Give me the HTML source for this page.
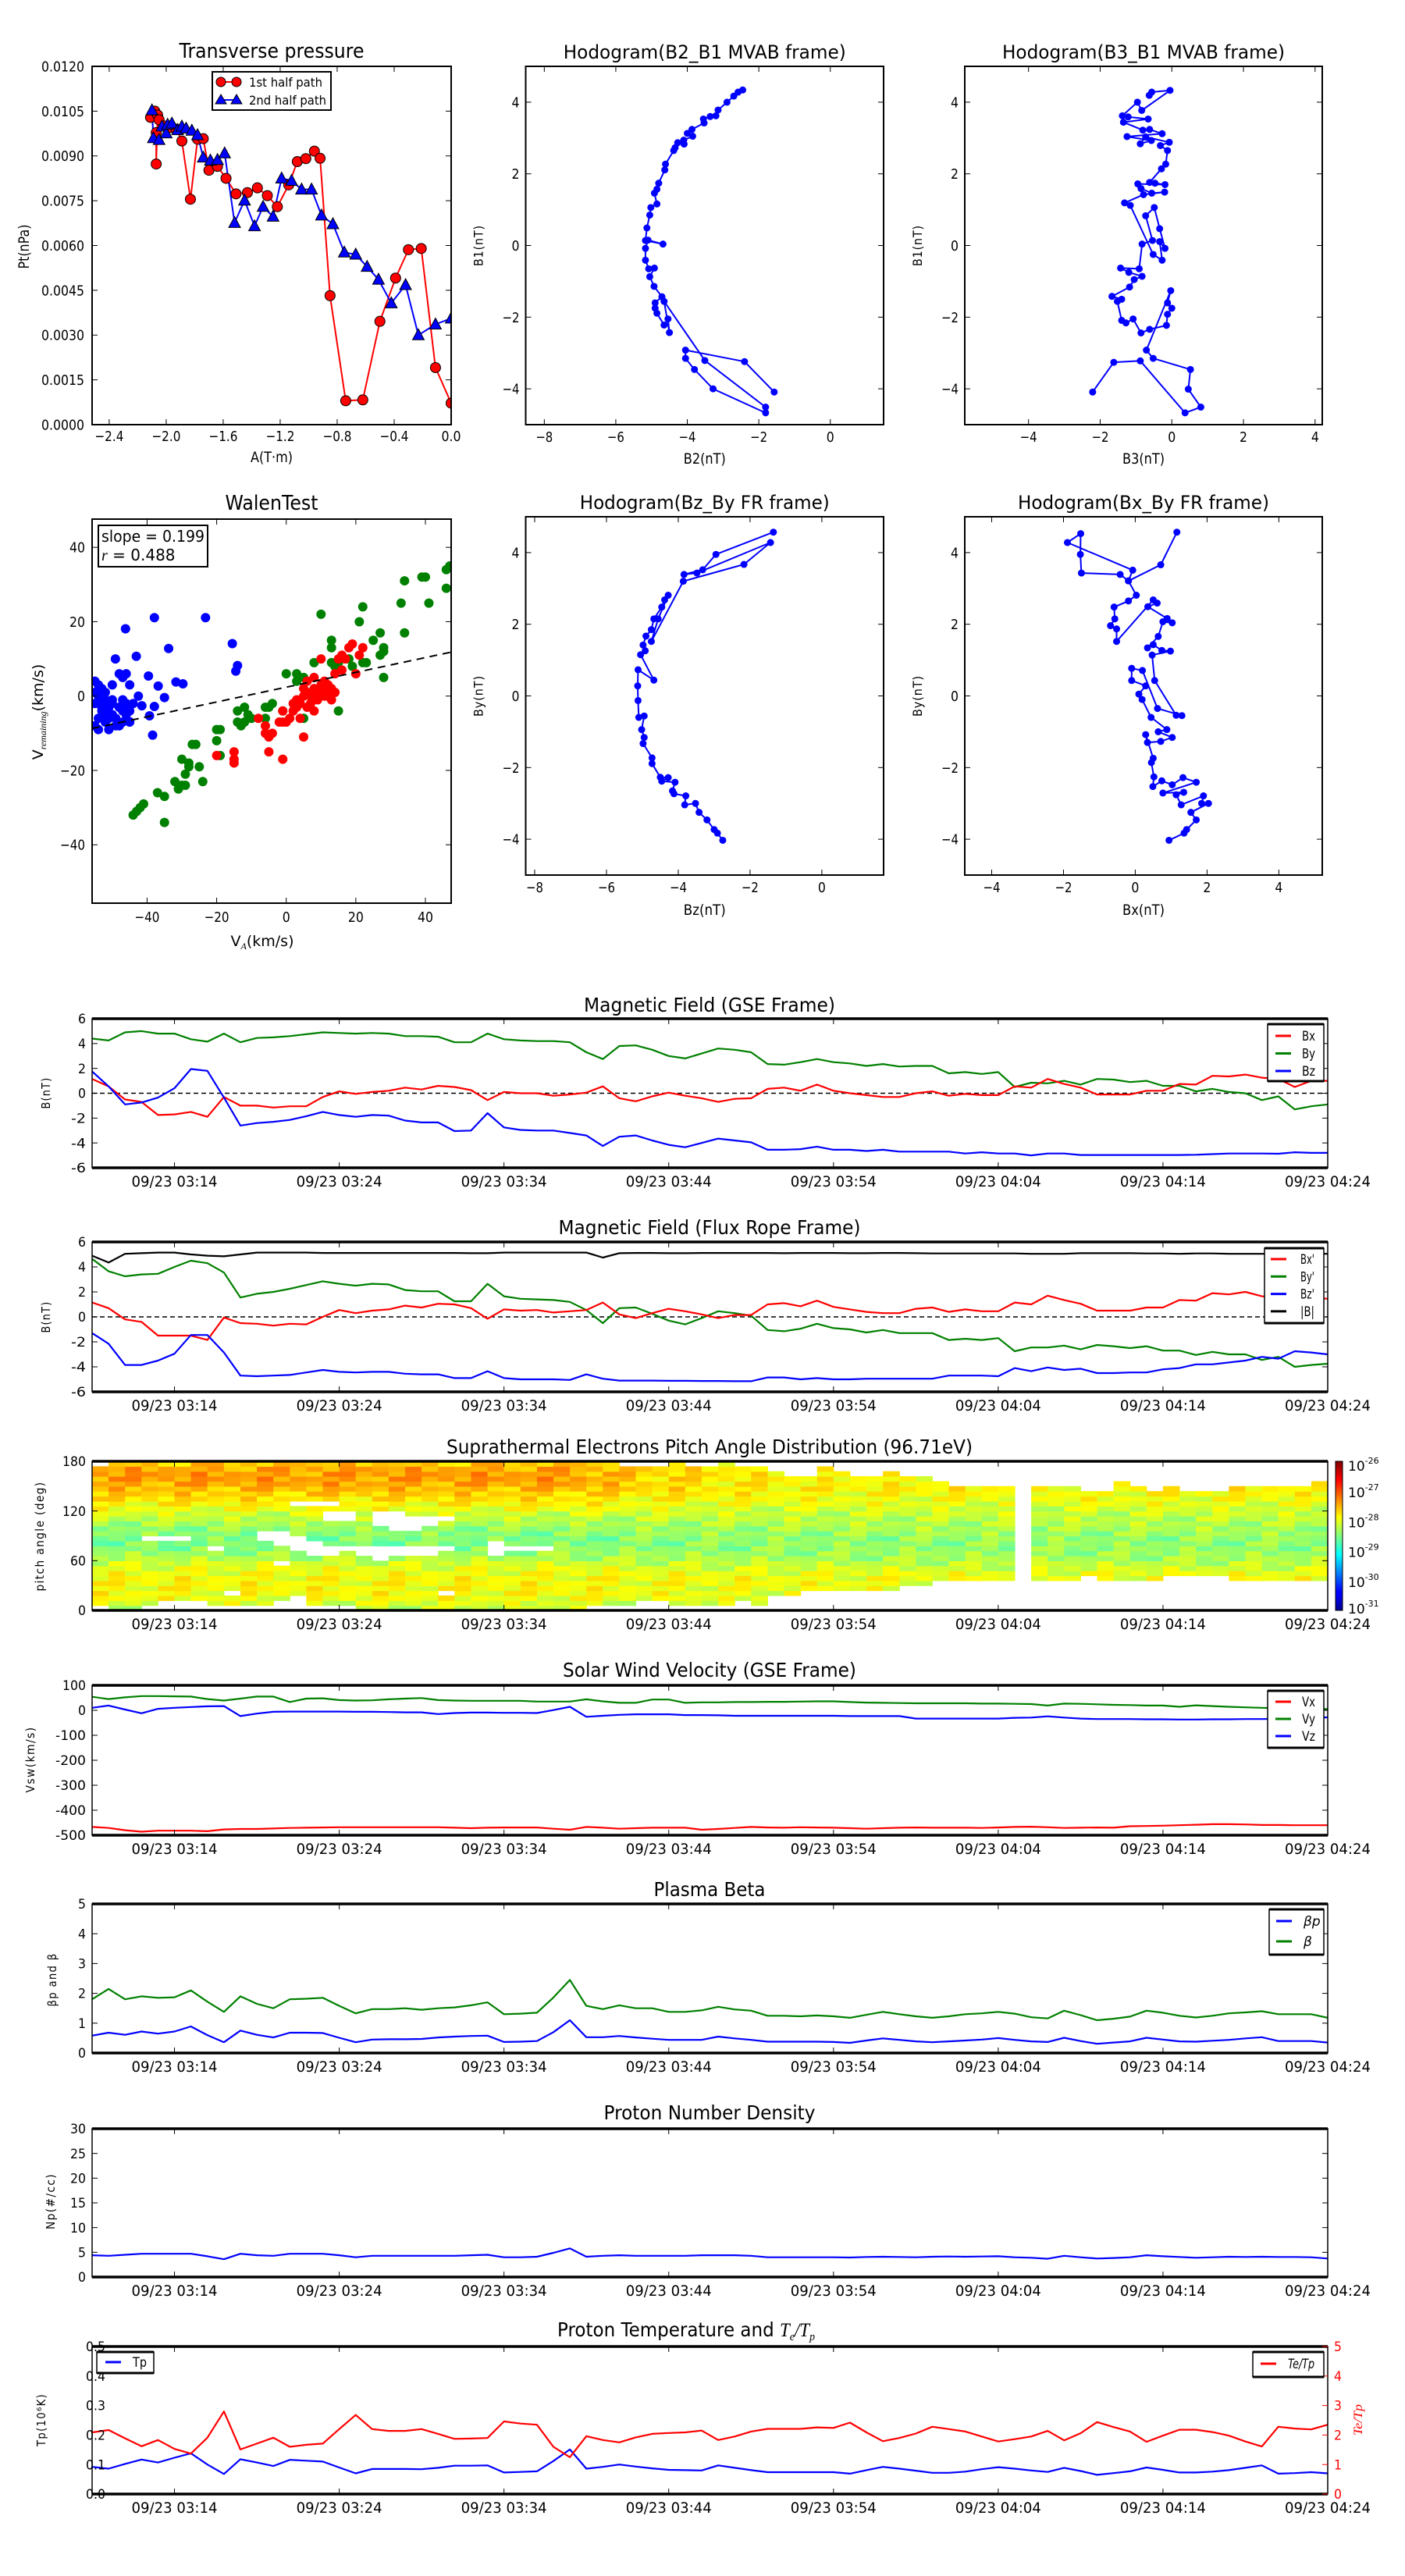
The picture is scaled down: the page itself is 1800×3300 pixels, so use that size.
<!DOCTYPE html>
<html><head><meta charset="utf-8"><title>Flux rope analysis</title>
<style>html,body{margin:0;padding:0;background:#fff}svg{display:block}</style></head>
<body>
<svg id="fig" width="1800" height="3300" xmlns="http://www.w3.org/2000/svg" font-family="'DejaVu Sans','Liberation Sans',sans-serif">
<defs>
<linearGradient id="jetgrad" x1="0" y1="1" x2="0" y2="0">
<stop offset="0" stop-color="#00008f"/><stop offset="0.11" stop-color="#0000ff"/><stop offset="0.125" stop-color="#0000ff"/><stop offset="0.375" stop-color="#00ffff"/><stop offset="0.5" stop-color="#80ff80"/><stop offset="0.625" stop-color="#ffff00"/><stop offset="0.875" stop-color="#ff0000"/><stop offset="1" stop-color="#800000"/>
</linearGradient>
</defs>
</svg>
<script>
// ---------- data ----------
const timeTickMinutes = [5,15,25,35,45,55,65,75];
const timeTickLabels = ['09/23 03:14','09/23 03:24','09/23 03:34','09/23 03:44','09/23 03:54','09/23 04:04','09/23 04:14','09/23 04:24'];

const tpA1 = [-2.11,-2.08,-2.06,-2.07,-2.07,-2.05,-2.01,-1.97,-1.93,-1.89,-1.83,-1.78,-1.74,-1.70,-1.64,-1.58,-1.51,-1.43,-1.36,-1.29,-1.22,-1.14,-1.08,-1.02,-0.96,-0.92,-0.85,-0.74,-0.62,-0.50,-0.39,-0.30,-0.21,-0.11,0.0];
const tpP1 = [0.01029,0.0105,0.01037,0.00873,0.00978,0.01021,0.01,0.00995,0.0099,0.0095,0.00755,0.00956,0.00958,0.00852,0.00865,0.00825,0.00773,0.00777,0.00793,0.00767,0.0073,0.00803,0.00881,0.00891,0.00916,0.00892,0.00432,0.0008,0.00083,0.00346,0.00491,0.00586,0.0059,0.00191,0.00072];
const tpA2 = [-2.1,-2.09,-2.05,-2.03,-2.0,-1.99,-1.96,-1.92,-1.89,-1.86,-1.82,-1.78,-1.74,-1.69,-1.64,-1.59,-1.52,-1.45,-1.38,-1.32,-1.25,-1.19,-1.12,-1.05,-0.98,-0.91,-0.83,-0.75,-0.67,-0.59,-0.51,-0.42,-0.32,-0.23,-0.11,0];
const tpP2 = [0.01053,0.0096,0.00954,0.00999,0.00976,0.01005,0.01009,0.00987,0.00999,0.00992,0.00985,0.0097,0.00895,0.00885,0.00887,0.00909,0.00676,0.00751,0.00665,0.0073,0.00697,0.00825,0.00817,0.00788,0.00788,0.00701,0.00672,0.00577,0.0057,0.00529,0.00486,0.00407,0.00468,0.003,0.00336,0.00356];

const h1X = [-2.45,-2.58,-2.7,-2.89,-3.14,-3.2,-3.36,-3.55,-3.53,-3.87,-4.0,-3.85,-4.1,-4.09,-4.27,-4.34,-4.38,-4.61,-4.63,-4.8,-4.85,-4.92,-4.85,-5.02,-5.05,-5.13,-5.17,-4.68,-5.1,-5.17,-5.17,-5.08,-4.92,-5.05,-4.93,-4.71,-4.9,-4.9,-4.85,-4.65,-4.54,-4.5,-4.65,-3.51,-1.81,-1.81,-3.28,-3.8,-4.05,-4.05,-2.4,-1.57];
const h1Y = [4.34,4.28,4.17,4.0,3.78,3.62,3.6,3.53,3.42,3.24,3.13,3.05,2.94,2.83,2.87,2.73,2.65,2.27,2.11,1.74,1.57,1.46,1.16,1.06,0.85,0.49,0.14,0.04,0.15,-0.08,-0.41,-0.65,-0.63,-0.87,-1.14,-1.43,-1.6,-1.75,-1.89,-2.22,-2.05,-2.43,-1.56,-3.21,-4.51,-4.67,-4.0,-3.46,-3.15,-2.92,-3.24,-4.09];

const h2X = [-0.63,-0.56,-0.05,-0.84,-0.96,-1.38,-1.22,-0.66,-1.35,-0.81,-0.62,-0.27,-1.25,-0.57,-0.88,-0.73,-0.07,-0.32,-0.12,-0.17,-0.29,-0.62,-0.47,-0.19,-0.95,-0.86,-0.56,-0.2,-0.79,-1.32,-1.16,-0.52,-0.27,-0.34,-0.19,-0.34,-0.49,-0.73,-0.54,-0.83,-0.91,-1.43,-1.2,-0.83,-1.05,-1.18,-1.67,-1.4,-1.52,-1.4,-1.28,-1.08,-0.86,-0.62,-0.15,-0.12,0,-0.12,-0.03,-0.71,-0.52,0.52,0.46,0.81,0.37,-0.88,-1.62,-2.21];
const h2Y = [4.19,4.28,4.33,3.77,4.0,3.62,3.59,3.53,3.44,3.22,3.24,3.12,3.04,2.93,2.84,3.03,2.88,2.79,2.65,2.27,2.14,1.76,1.74,1.7,1.72,1.59,1.46,1.49,1.42,1.19,1.12,-0.25,-0.41,0.11,-0.08,0.47,1.06,0.83,0.14,0.04,-0.65,-0.63,-0.75,-0.86,-0.95,-1.16,-1.42,-1.5,-1.56,-2.09,-2.16,-2.05,-2.44,-2.34,-2.23,-1.92,-1.75,-1.6,-1.26,-2.92,-3.15,-3.46,-4.01,-4.51,-4.67,-3.22,-3.26,-4.09];

const h3X = [-1.35,-2.95,-3.32,-3.84,-3.48,-1.43,-2.17,-3.86,-4.75,-4.56,-4.28,-4.38,-4.46,-4.68,-4.75,-4.9,-4.98,-4.92,-5.05,-4.68,-5.12,-5.13,-5.12,-5.1,-4.95,-5.02,-4.95,-4.98,-4.73,-4.73,-4.5,-4.28,-4.46,-4.09,-4.16,-4.12,-3.79,-3.82,-3.52,-3.42,-3.2,-3.0,-2.91,-2.76];
const h3Y = [4.57,3.95,3.52,3.39,3.43,4.28,3.67,3.2,1.52,2.15,2.81,2.68,2.48,2.15,1.85,1.67,1.42,1.26,1.15,0.44,0.73,0.28,-0.13,-0.6,-0.56,-0.94,-1.16,-1.33,-1.73,-1.89,-2.27,-2.28,-2.38,-2.41,-2.65,-2.73,-2.79,-3.04,-3.0,-3.25,-3.46,-3.73,-3.83,-4.03];

const h4X = [1.16,0.71,-0.19,-0.07,-1.89,-1.52,-1.53,-1.5,-0.42,-0.19,0.03,-0.19,-0.59,-0.57,-0.69,-0.52,-0.52,0.5,0.61,0.35,0.89,1.03,0.77,0.64,0.34,0.5,0.74,0.98,0.47,0.54,1.14,1.3,0.62,0.2,-0.1,-0.1,0.29,0.1,0.19,0.44,0.88,0.64,1.03,0.71,0.34,0.29,0.5,0.45,0.52,0.49,0.74,1.03,1.33,1.7,0.77,1.35,1.14,1.28,1.9,1.85,2.04,1.55,1.7,1.43,1.36,0.94];
const h4Y = [4.57,3.66,3.21,3.51,4.28,4.53,3.95,3.43,3.39,3.21,2.81,2.65,2.48,2.15,1.96,1.87,1.52,2.68,2.59,2.49,2.16,2.04,2.07,1.66,1.34,1.43,1.27,1.25,1.14,0.43,-0.54,-0.55,-0.35,0.71,0.77,0.43,0.28,0.05,-0.1,-0.6,-0.94,-1.0,-1.16,-1.27,-1.3,-1.08,-1.74,-1.86,-2.26,-2.53,-2.37,-2.48,-2.28,-2.41,-2.71,-2.69,-2.76,-3.04,-2.79,-3.0,-3.0,-3.25,-3.46,-3.73,-3.83,-4.03];

const walenBlueX = [-55,-54,-54,-53,-52,-51,-50,-49,-52,-55,-54,-51,-50,-50,-49.1,-48,-47,-47,-46,-45,-46,-45,-45,-48,-46.2,-43.1,-42.5,-41.5,-39.6,-37.9,-39.3,-38.4,-37.9,-36.8,-35,-33.8,-31.7,-29.7,-23.2,-15.5,-14,-14.5,-53,-52,-54,-53,-48,-50,-47,-55,-55,-53,-44,-45,-49,-51,-52,-46,-47];
const walenBlueY = [-2,3,0,-4,1,-6,-2,-8,-7,-8,-9,-9,3,-1,10,6,5,-4,6,3,-2,-4,-7,-8,18.1,10.7,0,-2.6,5.4,-2.8,-5.3,-10.5,21.1,2.7,-0.4,12.8,3.8,3.3,21.1,14.1,8.2,6.7,-3,-5,-6,2,-3,-5,-1,4,1,-1,-2,-6.9,-6,-3,-1,-5,-7];
const walenRedX = [-20,-15,-15,-15,-8,-6,-6,-5,-4,-5,-1,-1,0,-2,-1,1,2,3,4,5,3,5,5,6,6,7,7,8,8,8,9,10,10,11,11,12,12,13,10,14,14,15,16,16,18,19,20,21,22,17,2,4,6,9,11,13];
const walenRedY = [-16,-15,-17,-18,-6,-8,-10,-11,-10,-15,-17,-7,-7,-7,-4,-6,-2,-1,-6,-11,-3,0,2,1,4,-2,0,2,-4,5,1,2,3,1,4,3,0,2,10,1,6,10,7,11,13,14,6,11,13,10,-4,-2,-3,-1,0,-1];
const walenGreenX = [-44,-43,-42,-41,-37,-35,-35,-32,-31,-30,-30,-29,-29,-28,-28,-27,-26,-25,-24,-20,-20,-19,-19,-14,-14,-13,-12,-12,-11,-10,-6,-6,-5,-4,-1,0,3,3,5,5,7,8,10,13,13,13,14,15,15,18,19,21,22,22,23,25,27,27,28,28,28,33,34,34,39,40,41,46,46,47];
const walenGreenY = [-32,-31,-30,-29,-26,-27,-34,-23,-25,-24,-17,-21,-24,-18,-19,-13,-13,-19,-23,-9,-12,-16,-9,-7,-4,-8,-3,-7,-5,-6,-3,-6,-3,-2,-4,6,6,4,5,-6,0,9,22,15,13,9,8,-4,9,10,8,20,24,9,9,15,11,17,13,12,5,25,17,31,32,32,25,34,29,35];
const walenSlope = 0.199, walenIntercept = 2.4;

const gseBx = [1.15,0.55,-0.5,-0.7,-1.75,-1.7,-1.5,-1.9,-0.3,-1.0,-1.0,-1.15,-1.05,-1.05,-0.3,0.15,-0.05,0.1,0.2,0.45,0.3,0.6,0.5,0.25,-0.55,0.1,0,0,-0.2,-0.1,0.05,0.55,-0.4,-0.65,-0.25,0.05,-0.2,-0.4,-0.7,-0.45,-0.4,0.35,0.45,0.2,0.7,0.2,0,-0.15,-0.3,-0.3,0,0.15,-0.2,-0.05,-0.15,-0.15,0.55,0.45,1.15,0.75,0.45,-0.1,-0.1,-0.1,0.2,0.2,0.75,0.7,1.4,1.35,1.5,1.25,1.15,0.5,1.0,1.0];
const gseBy = [4.4,4.25,4.9,5.0,4.8,4.8,4.35,4.15,4.8,4.1,4.45,4.5,4.6,4.75,4.9,4.85,4.8,4.85,4.8,4.6,4.6,4.55,4.1,4.1,4.8,4.35,4.25,4.2,4.2,4.1,3.3,2.75,3.8,3.85,3.5,3.0,2.8,3.2,3.6,3.5,3.3,2.35,2.3,2.5,2.75,2.5,2.4,2.2,2.35,2.15,2.2,2.2,1.6,1.7,1.55,1.7,0.5,0.85,0.8,1.0,0.7,1.15,1.1,0.9,1.0,0.6,0.6,0.15,0.35,0.1,0.0,-0.55,-0.25,-1.3,-1.05,-0.9];
const gseBz = [1.75,0.55,-0.9,-0.75,-0.35,0.4,1.95,1.8,-0.35,-2.6,-2.4,-2.3,-2.15,-1.85,-1.5,-1.75,-1.9,-1.75,-1.8,-2.2,-2.35,-2.35,-3.05,-3.0,-1.6,-2.75,-2.95,-3.0,-3.0,-3.2,-3.4,-4.25,-3.5,-3.4,-3.8,-4.15,-4.35,-4.0,-3.65,-3.8,-3.95,-4.55,-4.55,-4.5,-4.3,-4.55,-4.55,-4.65,-4.55,-4.7,-4.7,-4.7,-4.7,-4.85,-4.75,-4.85,-4.85,-5.0,-4.85,-4.85,-4.97,-4.97,-4.97,-4.97,-4.97,-4.97,-4.97,-4.95,-4.9,-4.85,-4.85,-4.85,-4.87,-4.75,-4.8,-4.8];

const frBx = [1.15,0.7,-0.2,-0.4,-1.5,-1.5,-1.5,-1.85,-0.05,-0.5,-0.55,-0.7,-0.55,-0.6,0,0.55,0.3,0.5,0.6,0.9,0.75,1.05,1.0,0.7,-0.15,0.6,0.5,0.55,0.35,0.45,0.55,1.15,0.2,-0.1,0.3,0.65,0.45,0.2,-0.1,0.15,0.15,1.0,1.1,0.85,1.3,0.8,0.6,0.4,0.3,0.3,0.65,0.75,0.4,0.6,0.45,0.45,1.15,1.0,1.7,1.35,1.05,0.5,0.5,0.5,0.75,0.75,1.35,1.3,1.9,1.8,2.0,1.65,1.6,1.6,1.55,1.45];
const frBy = [4.65,3.65,3.25,3.4,3.45,4.0,4.5,4.3,3.55,1.55,1.85,2.0,2.25,2.55,2.85,2.65,2.5,2.65,2.6,2.15,2.05,2.05,1.25,1.25,2.65,1.65,1.45,1.4,1.35,1.2,0.55,-0.5,0.7,0.75,0.25,-0.3,-0.6,-0.1,0.45,0.3,0.1,-1.05,-1.15,-0.95,-0.55,-0.9,-1.0,-1.25,-1.05,-1.3,-1.3,-1.3,-1.85,-1.75,-1.85,-1.7,-2.75,-2.45,-2.45,-2.3,-2.6,-2.25,-2.35,-2.5,-2.35,-2.7,-2.7,-3.05,-2.8,-3.0,-3.0,-3.45,-3.2,-4.0,-3.85,-3.75];
const frBz = [-1.3,-2.15,-3.85,-3.85,-3.5,-2.95,-1.45,-1.45,-2.85,-4.7,-4.75,-4.7,-4.65,-4.45,-4.25,-4.4,-4.45,-4.4,-4.4,-4.55,-4.6,-4.6,-4.9,-4.9,-4.35,-4.9,-5.0,-5.0,-5.0,-5.05,-4.6,-4.95,-5.1,-5.1,-5.1,-5.12,-5.12,-5.13,-5.13,-5.15,-5.15,-4.85,-4.85,-5.0,-4.9,-5.0,-5.0,-4.95,-4.95,-4.95,-4.95,-4.95,-4.7,-4.7,-4.7,-4.75,-4.1,-4.35,-4.05,-4.25,-4.15,-4.5,-4.5,-4.45,-4.45,-4.2,-4.1,-3.8,-3.8,-3.65,-3.5,-3.2,-3.35,-2.75,-2.85,-3.0];
const frBt = [4.9,4.35,5.05,5.1,5.15,5.15,5.0,4.9,4.85,5.0,5.15,5.15,5.15,5.15,5.12,5.12,5.12,5.12,5.12,5.12,5.12,5.12,5.12,5.1,5.1,5.15,5.15,5.15,5.15,5.15,5.15,4.75,5.1,5.12,5.12,5.1,5.1,5.12,5.12,5.12,5.12,5.12,5.1,5.12,5.12,5.12,5.1,5.1,5.12,5.12,5.1,5.08,5.08,5.08,5.08,5.08,5.08,5.05,5.05,5.05,5.1,5.1,5.1,5.1,5.08,5.08,5.05,5.08,5.08,5.05,5.05,5.05,5.05,5.05,5.05,5.05];

const padProfA = [-28.15,-28.05,-27.95,-27.9,-27.9,-27.9,-27.9,-27.95,-28.0,-28.1,-28.25,-28.35,-28.45,-28.5,-28.5,-28.45,-28.4,-28.3,-28.2,-28.1,-27.95,-27.85,-27.75,-27.65,-27.55,-27.45,-27.4,-27.4,-27.45,-27.6];
const padProfB = [-28.1,-28.1,-28.05,-28.0,-28.0,-27.95,-27.95,-28.0,-28.1,-28.2,-28.3,-28.35,-28.4,-28.4,-28.4,-28.35,-28.3,-28.25,-28.2,-28.15,-28.1,-28.0,-27.95,-27.9,-27.85,-27.9,-27.9,-27.9,-27.9,-27.9];
const padJitter = [0.1,-0.15,0.05,0.2,-0.05,-0.2,0.15,0,-0.1,0.25,-0.25,0.1,-0.05,0.05,-0.15,0.2,0];
const padMix = [0,0,0,0,0,0,0,0,0,0,0,0,0,0,0,0,0,0,0,0,0,0,0,0,0,0,0,0,0,0,0.2,0.3,0.4,0.5,0.6,0.6,0.7,0.7,0.8,0.8,0.85,0.9,0.9,0.95,1,1,1,1,1,1,1,1,1,1,1,1,1,1,1,1,1,1,1,1,1,1,1,1,1,1,1,1,1,1,1,1];
const padLo = [1,0,0,1,2,2,2,1,1,1,1,2,2,1,1,1,0,0,0,0,0,0,0,0,0,0,0,0,0,0,1,1,1,2,2,1,1,1,1,2,1,3,3,4,4,4,4,4,4,5,5,6,6,6,6,6,30,6,6,6,7,6,6,6,6,7,7,7,7,6,6,6,6,6,6,6];
const padHi = [28,29,29,29,29,29,29,29,29,29,29,29,29,29,29,29,29,29,29,29,29,29,29,29,29,29,29,29,29,29,29,29,28,28,28,29,28,28,29,28,28,27,26,26,28,27,26,26,27,26,26,25,24,24,24,24,-1,24,24,24,23,23,25,24,23,24,23,23,23,24,24,24,24,24,25,24];
const padHoles = [[14,18],[14,19],[15,18],[15,19],[17,17],[17,18],[17,19],[18,16],[18,17],[18,18],[18,19],[19,16],[19,17],[19,18],[20,17],[20,18],[21,18],[12,21],[13,21],[14,21],[10,14],[10,15],[11,13],[11,14],[11,15],[12,12],[12,13],[12,14],[13,11],[13,12],[13,13],[14,11],[14,12],[15,12],[16,11],[16,12],[17,10],[17,11],[17,12],[18,11],[18,12],[19,11],[19,12],[20,11],[20,12],[21,12],[3,14],[4,14],[5,14],[7,12],[11,9],[8,3],[12,2],[21,3],[24,11],[24,12],[24,13],[25,12],[26,12],[27,12]];

const swVx = [-467,-471,-480,-486,-482,-482,-482,-484,-477,-475,-475,-473,-471,-470,-469,-468,-468,-468,-468,-468,-468,-468,-470,-472,-470,-469,-469,-469,-474,-478,-467,-470,-474,-472,-470,-470,-470,-478,-475,-471,-467,-469,-470,-468,-469,-470,-472,-474,-472,-470,-469,-470,-470,-470,-471,-469,-467,-466,-468,-471,-470,-469,-470,-464,-463,-462,-460,-458,-456,-456,-457,-459,-459,-460,-460,-460];
const swVy = [54,45,52,57,57,56,55,45,39,47,55,55,33,47,48,41,39,40,44,47,49,41,39,38,38,38,38,35,35,35,44,36,30,30,43,43,30,32,32,33,33,34,34,35,36,36,33,31,30,29,28,28,28,28,27,27,26,25,19,27,26,24,22,21,19,19,14,20,17,14,12,10,8,7,6,5];
const swVz = [10,19,3,-12,6,10,13,16,17,-23,-13,-6,-5,-5,-5,-5,-6,-6,-7,-8,-8,-15,-11,-9,-9,-10,-10,-11,1,14,-26,-22,-18,-16,-16,-16,-19,-19,-20,-22,-22,-22,-22,-22,-22,-22,-23,-23,-23,-23,-33,-33,-33,-33,-33,-33,-30,-29,-24,-29,-33,-35,-35,-35,-36,-36,-37,-37,-36,-36,-35,-35,-34,-32,-30,-28];

const betaP = [0.58,0.68,0.61,0.72,0.65,0.72,0.89,0.6,0.36,0.75,0.61,0.52,0.68,0.68,0.67,0.51,0.36,0.45,0.46,0.46,0.47,0.52,0.55,0.57,0.58,0.37,0.38,0.4,0.7,1.1,0.53,0.53,0.57,0.52,0.48,0.44,0.44,0.44,0.55,0.49,0.44,0.38,0.38,0.38,0.38,0.37,0.34,0.42,0.49,0.44,0.39,0.36,0.39,0.42,0.45,0.5,0.44,0.39,0.37,0.51,0.4,0.31,0.35,0.39,0.51,0.45,0.39,0.38,0.41,0.44,0.49,0.53,0.4,0.4,0.4,0.35];
const betaT = [1.8,2.15,1.8,1.9,1.85,1.87,2.1,1.72,1.38,1.9,1.65,1.5,1.8,1.82,1.85,1.58,1.33,1.47,1.47,1.5,1.45,1.5,1.53,1.6,1.7,1.3,1.32,1.35,1.86,2.45,1.58,1.47,1.6,1.5,1.5,1.38,1.38,1.43,1.55,1.46,1.42,1.25,1.25,1.23,1.26,1.23,1.18,1.28,1.38,1.3,1.23,1.18,1.23,1.3,1.33,1.38,1.32,1.2,1.16,1.42,1.27,1.1,1.15,1.22,1.42,1.35,1.25,1.19,1.25,1.33,1.36,1.4,1.3,1.3,1.3,1.18];
const densNp = [4.4,4.3,4.5,4.7,4.7,4.7,4.7,4.2,3.6,4.7,4.4,4.3,4.7,4.7,4.7,4.4,4.0,4.3,4.3,4.3,4.3,4.3,4.3,4.4,4.5,4.0,4.0,4.1,4.9,5.8,4.1,4.3,4.4,4.3,4.3,4.3,4.3,4.4,4.4,4.4,4.3,4.0,4.0,4.0,4.0,4.0,3.95,4.05,4.1,4.05,4.0,4.1,4.15,4.1,4.15,4.2,4.0,3.9,3.7,4.3,4.0,3.75,3.85,4.0,4.4,4.2,4.05,3.9,4.0,4.1,4.05,4.1,4.05,4.05,4.0,3.75];
const tempTp = [0.092,0.086,0.102,0.117,0.107,0.123,0.138,0.1,0.068,0.118,0.107,0.095,0.116,0.113,0.11,0.09,0.07,0.085,0.085,0.085,0.084,0.089,0.096,0.096,0.097,0.073,0.075,0.077,0.112,0.151,0.086,0.092,0.1,0.093,0.087,0.082,0.081,0.08,0.097,0.089,0.081,0.074,0.074,0.074,0.074,0.074,0.069,0.081,0.092,0.086,0.079,0.072,0.072,0.076,0.084,0.091,0.086,0.08,0.075,0.089,0.078,0.065,0.071,0.077,0.09,0.082,0.073,0.073,0.076,0.081,0.089,0.097,0.069,0.071,0.074,0.07];
const tempRatio = [2.09,2.17,1.89,1.62,1.83,1.53,1.37,1.91,2.8,1.51,1.71,1.91,1.6,1.67,1.71,2.2,2.68,2.2,2.14,2.14,2.2,2.04,1.87,1.88,1.9,2.46,2.39,2.35,1.6,1.25,1.96,1.83,1.75,1.92,2.04,2.07,2.09,2.15,1.83,1.95,2.12,2.21,2.21,2.21,2.26,2.24,2.42,2.09,1.79,1.9,2.05,2.28,2.2,2.12,1.95,1.78,1.86,1.95,2.14,1.82,2.06,2.44,2.27,2.12,1.77,1.98,2.18,2.18,2.1,1.98,1.78,1.61,2.28,2.22,2.19,2.35];

// ---------- helpers ----------
const NS = 'http://www.w3.org/2000/svg';
const fig = document.getElementById('fig');
let clipN = 0;
function mk(tag, attrs, parent) {
  const e = document.createElementNS(NS, tag);
  for (const k in attrs) e.setAttribute(k, attrs[k]);
  (parent || fig).appendChild(e);
  return e;
}
function tw(s) { let w = 0; for (const c of s) { w += (c === '.') ? 5 : (c === '−') ? 12 : (c === '-') ? 9 : 10; } return w; }
function label(str, x, y, size, anchor, len, parent, nm, extra) {
  const a = Object.assign({x: x, y: y, 'font-size': size, 'text-anchor': anchor || 'middle', fill: '#000'}, extra || {});
  if (len) { a.textLength = len; a.lengthAdjust = 'spacingAndGlyphs'; }
  const e = mk('text', a, parent);
  e.textContent = str;
  
  
  return e;
}
function group(nm, parent) {
  const g = mk('g', {}, parent);
  
  
  return g;
}
function makeAxes(nm, x0, x1, y0, y1, xmin, xmax, ymin, ymax) {
  const g = group(nm);
  const id = 'clip' + (clipN++);
  const cp = mk('clipPath', {id: id}, g);
  mk('rect', {x: x0, y: y0, width: x1 - x0, height: y1 - y0}, cp);
  const plot = mk('g', {'clip-path': 'url(#' + id + ')'}, g);
  
  
  return {g, plot, x0, x1, y0, y1,
    sx: v => x0 + (v - xmin) / (xmax - xmin) * (x1 - x0),
    sy: v => y1 - (v - ymin) / (ymax - ymin) * (y1 - y0)};
}
function frame(ax, thick) {
  if (thick) {
    mk('rect', {x: ax.x0, y: ax.y0, width: ax.x1 - ax.x0, height: ax.y1 - ax.y0, fill: 'none', stroke: '#000', 'stroke-width': 1.5}, ax.g);
    mk('line', {x1: ax.x0, x2: ax.x1, y1: ax.y0, y2: ax.y0, stroke: '#000', 'stroke-width': 3.5}, ax.g);
    mk('line', {x1: ax.x0, x2: ax.x1, y1: ax.y1, y2: ax.y1, stroke: '#000', 'stroke-width': 3.5}, ax.g);
  } else {
    mk('rect', {x: ax.x0, y: ax.y0, width: ax.x1 - ax.x0, height: ax.y1 - ax.y0, fill: 'none', stroke: '#000', 'stroke-width': 2}, ax.g);
  }
}
function xTicks(ax, vals, labs, ly, size, nm) {
  vals.forEach((v, i) => {
    const x = ax.sx(v);
    mk('line', {x1: x, x2: x, y1: ax.y1, y2: ax.y1 - 7, stroke: '#000', 'stroke-width': 1}, ax.g);
    mk('line', {x1: x, x2: x, y1: ax.y0, y2: ax.y0 + 7, stroke: '#000', 'stroke-width': 1}, ax.g);
    if (labs) label(labs[i], x, ly, size, 'middle', tw(labs[i]), ax.g, nm);
  });
}
function yTicks(ax, vals, labs, lx, size, nm, color, right) {
  vals.forEach((v, i) => {
    const y = ax.sy(v);
    if (!right) mk('line', {x1: ax.x0, x2: ax.x0 + 7, y1: y, y2: y, stroke: '#000', 'stroke-width': 1}, ax.g);
    if (right !== 'only-left') mk('line', {x1: ax.x1, x2: ax.x1 - 7, y1: y, y2: y, stroke: color || '#000', 'stroke-width': 1}, ax.g);
    if (labs) label(labs[i], lx, y + size * 0.36, size, right ? 'start' : 'end', tw(labs[i]), ax.g, nm, color ? {fill: color} : null);
  });
}
function line(ax, xs, ys, color, w, nm, dash) {
  const pts = xs.map((x, i) => ax.sx(x).toFixed(1) + ',' + ax.sy(ys[i]).toFixed(1)).join(' ');
  const a = {points: pts, fill: 'none', stroke: color, 'stroke-width': w, 'stroke-linejoin': 'round'};
  if (dash) a['stroke-dasharray'] = dash;
  const e = mk('polyline', a, ax.plot);
  
  
  return e;
}
function dots(ax, xs, ys, color, r, nm, stroke) {
  xs.forEach((x, i) => {
    const c = mk('circle', {cx: ax.sx(x), cy: ax.sy(ys[i]), r: r, fill: color}, ax.plot);
    if (stroke) { c.setAttribute('stroke', stroke); c.setAttribute('stroke-width', 1); }
    
    
  });
}
function ylab(str, x, y, size, len, parent, nm, extra) {
  const e = label(str, 0, 0, size, 'middle', len, parent, nm, extra);
  e.setAttribute('transform', 'translate(' + x + ',' + y + ') rotate(-90)');
  return e;
}
const mm = v => (v < 0 ? '−' : '') + Math.abs(v);

// ---------- Transverse pressure ----------
(function () {
  const ax = makeAxes('transverse-pressure-chart', 118, 578, 85, 544, -2.52, 0, 0, 0.012);
  line(ax, tpA1, tpP1, '#ff0000', 2, 'first-half-line');
  line(ax, tpA2, tpP2, '#0000ff', 2, 'second-half-line');
  dots(ax, tpA1, tpP1, '#ff0000', 6.5, 'first-half-marker', '#000');
  tpA2.forEach((a, i) => {
    const x = ax.sx(a), y = ax.sy(tpP2[i]);
    const t = mk('polygon', {points: `${x},${y - 8} ${x - 7.5},${y + 6} ${x + 7.5},${y + 6}`, fill: '#0000ff', stroke: '#000', 'stroke-width': 1}, ax.plot);
    
    
  });
  frame(ax);
  const xv = [-2.4, -2.0, -1.6, -1.2, -0.8, -0.4, 0.0];
  xTicks(ax, xv, xv.map(v => (v < 0 ? '−' : '') + Math.abs(v).toFixed(1)), 565, 18, 'x-tick-label');
  const yv = [0, 0.0015, 0.003, 0.0045, 0.006, 0.0075, 0.009, 0.0105, 0.012];
  yTicks(ax, yv, yv.map(v => v.toFixed(4)), 108, 18, 'y-tick-label');
  label('Transverse pressure', 348, 74, 26, 'middle', 237, ax.g, 'chart-title');
  label('A(T·m)', 348, 592, 19, 'middle', 54, ax.g, 'x-axis-title');
  ylab('Pt(nPa)', 37, 316, 19, 57, ax.g, 'y-axis-title');
  const lg = group('legend', ax.g);
  mk('rect', {x: 272, y: 92, width: 152, height: 49, fill: '#fff', stroke: '#000', 'stroke-width': 2}, lg);
  mk('line', {x1: 283, x2: 303, y1: 105, y2: 105, stroke: '#f00', 'stroke-width': 2}, lg);
  mk('circle', {cx: 283, cy: 105, r: 6, fill: '#f00', stroke: '#000'}, lg);
  mk('circle', {cx: 303, cy: 105, r: 6, fill: '#f00', stroke: '#000'}, lg);
  mk('line', {x1: 283, x2: 303, y1: 128, y2: 128, stroke: '#00f', 'stroke-width': 2}, lg);
  mk('polygon', {points: '283,121 276,133 290,133', fill: '#00f', stroke: '#000'}, lg);
  mk('polygon', {points: '303,121 296,133 310,133', fill: '#00f', stroke: '#000'}, lg);
  label('1st half path', 319, 111, 16, 'start', 94, lg, 'legend-entry-first-half');
  label('2nd half path', 319, 134, 16, 'start', 99, lg, 'legend-entry-second-half');
})();

// ---------- hodograms ----------
function hodo(nm, x0, x1, y0, y1, xmin, xmax, xs, ys, xticks, title, tlen, xl, yl, ty, tickY, labY) {
  const ax = makeAxes(nm, x0, x1, y0, y1, xmin, xmax, -5, 5);
  line(ax, xs, ys, '#0000ff', 2, 'hodogram-path');
  dots(ax, xs, ys, '#0000ff', 4.5, 'hodogram-point');
  frame(ax);
  xTicks(ax, xticks, xticks.map(mm), tickY, 18, 'x-tick-label');
  yTicks(ax, [-4, -2, 0, 2, 4], [-4, -2, 0, 2, 4].map(mm), x0 - 8, 18, 'y-tick-label');
  label(title, (x0 + x1) / 2, ty, 24, 'middle', tlen, ax.g, 'chart-title');
  label(xl, (x0 + x1) / 2, labY, 19, 'middle', 54, ax.g, 'x-axis-title');
  ylab(yl, x0 - 55, (y0 + y1) / 2, 16, 53, ax.g, 'y-axis-title', {'letter-spacing': '1'});
}
hodo('hodogram-b2-b1', 673.5, 1132, 85, 544, -8.52, 1.49, h1X, h1Y, [-8, -6, -4, -2, 0], 'Hodogram(B2_B1 MVAB frame)', 362, 'B2(nT)', 'B1(nT)', 75, 566, 594);
hodo('hodogram-b3-b1', 1236, 1694, 85, 544, -5.78, 4.2, h2X, h2Y, [-4, -2, 0, 2, 4], 'Hodogram(B3_B1 MVAB frame)', 362, 'B3(nT)', 'B1(nT)', 75, 566, 594);
hodo('hodogram-bz-by', 673.5, 1132, 662, 1121, -8.25, 1.72, h3X, h3Y, [-8, -6, -4, -2, 0], 'Hodogram(Bz_By FR frame)', 320, 'Bz(nT)', 'By(nT)', 652, 1143, 1172);
hodo('hodogram-bx-by', 1236, 1694, 662, 1121, -4.75, 5.21, h4X, h4Y, [-4, -2, 0, 2, 4], 'Hodogram(Bx_By FR frame)', 322, 'Bx(nT)', 'By(nT)', 652, 1143, 1172);

// ---------- Walen test ----------
(function () {
  const xmin = -55.8, xmax = 47.4;
  const ax = makeAxes('walen-test-chart', 118, 578, 665, 1157, xmin, xmax, -55.7, 47.6);
  dots(ax, walenBlueX, walenBlueY, '#0000ff', 6, 'walen-point-blue');
  dots(ax, walenGreenX, walenGreenY, '#008000', 6, 'walen-point-green');
  dots(ax, walenRedX, walenRedY, '#ff0000', 6, 'walen-point-red');
  line(ax, [xmin, xmax], [walenIntercept + walenSlope * xmin, walenIntercept + walenSlope * xmax], '#000', 2, 'fit-line', '10,7');
  frame(ax);
  const t = [-40, -20, 0, 20, 40];
  xTicks(ax, t, t.map(mm), 1181, 18, 'x-tick-label');
  yTicks(ax, t, t.map(mm), 109, 18, 'y-tick-label');
  label('WalenTest', 348, 653, 26, 'middle', 119, ax.g, 'chart-title');
  const vx = label('V', 336, 1212, 19, 'middle', null, ax.g, 'x-axis-title');
  const s1 = mk('tspan', {'font-style': 'italic', 'font-family': 'Liberation Serif, serif', 'font-size': 12, dy: 4}, vx); s1.textContent = 'A';
  const s2 = mk('tspan', {dy: -4}, vx); s2.textContent = '(km/s)';
  const yv = label('V', 0, 0, 19, 'middle', null, ax.g, 'y-axis-title');
  yv.setAttribute('transform', 'translate(55,912) rotate(-90)');
  const s3 = mk('tspan', {'font-style': 'italic', 'font-family': 'Liberation Serif, serif', 'font-size': 12, dy: 4}, yv); s3.textContent = 'remaining';
  const s4 = mk('tspan', {dy: -4}, yv); s4.textContent = '(km/s)';
  const bx = group('fit-stats-box', ax.g);
  mk('rect', {x: 126, y: 673, width: 140, height: 53, fill: '#fff', stroke: '#000', 'stroke-width': 2}, bx);
  label('slope = 0.199', 130, 694, 20, 'start', 132, bx, 'slope-text');
  const rt = label('', 130, 718, 20, 'start', null, bx, 'r-text');
  const r1 = mk('tspan', {'font-style': 'italic', 'font-family': 'Liberation Serif, serif'}, rt); r1.textContent = 'r';
  const r2 = mk('tspan', {}, rt); r2.textContent = ' = 0.488';
})();

// ---------- time series panels ----------
const TX0 = 118, TX1 = 1701;
function timeAxes(nm, y0, y1, ymin, ymax, yvals, ylabs, title, tlen, tyb) {
  const ax = makeAxes(nm, TX0, TX1, y0, y1, 0, 75, ymin, ymax);
  ax.title = label(title, 909, tyb, 25, 'middle', tlen, ax.g, 'chart-title');
  ax.yvals = yvals; ax.ylabs = ylabs;
  return ax;
}
function finishTime(ax, rightMode) {
  frame(ax, true);
  xTicks(ax, timeTickMinutes, timeTickLabels, ax.y1 + 24, 19, 'time-tick-label');
  yTicks(ax, ax.yvals, ax.ylabs, 110, 17, 'y-tick-label', null, rightMode);
}
function series(ax, ys, color, nm) { return line(ax, ys.map((v, i) => i), ys, color, 2.2, nm); }
function legend(ax, nm, x, y, w, h, items, lx, tx, startY, step, tlen) {
  const lg = group(nm, ax.g);
  mk('rect', {x: x, y: y, width: w, height: h, fill: '#fff', stroke: '#000', 'stroke-width': 1.5}, lg);
  mk('line', {x1: x, x2: x + w, y1: y + h, y2: y + h, stroke: '#000', 'stroke-width': 3}, lg);
  mk('line', {x1: x, x2: x + w, y1: y, y2: y, stroke: '#000', 'stroke-width': 3}, lg);
  items.forEach((it, i) => {
    const yy = startY + i * step;
    mk('line', {x1: lx, x2: lx + 20, y1: yy, y2: yy, stroke: it[1], 'stroke-width': 3}, lg);
    const t = label(it[0], tx, yy + 6, 17, 'start', tlen, lg, 'legend-entry');
    if (it[2]) t.setAttribute('font-style', 'italic');
  });
  return lg;
}
const zeroDash = ax => line(ax, [0, 75], [0, 0], '#000', 1.5, 'zero-line', '6,4');

// GSE field
(function () {
  const yv = [-6, -4, -2, 0, 2, 4, 6];
  const ax = timeAxes('magnetic-field-gse-chart', 1305, 1496, -6, 6, yv, yv.map(String), 'Magnetic Field (GSE Frame)', 322, 1296);
  zeroDash(ax);
  series(ax, gseBy, '#008000', 'by-line');
  series(ax, gseBx, '#ff0000', 'bx-line');
  series(ax, gseBz, '#0000ff', 'bz-line');
  finishTime(ax);
  ylab('B(nT)', 64, 1400, 15, 41, ax.g, 'y-axis-title', {'letter-spacing': '1.5'});
  legend(ax, 'legend', 1624, 1312, 72, 73, [['Bx', '#f00'], ['By', '#008000'], ['Bz', '#00f']], 1634, 1668, 1327, 22.5, 17);
})();
// Flux rope field
(function () {
  const yv = [-6, -4, -2, 0, 2, 4, 6];
  const ax = timeAxes('magnetic-field-flux-rope-chart', 1591, 1783, -6, 6, yv, yv.map(String), 'Magnetic Field (Flux Rope Frame)', 387, 1581);
  zeroDash(ax);
  series(ax, frBt, '#000000', 'bt-line');
  series(ax, frBy, '#008000', 'by-prime-line');
  series(ax, frBx, '#ff0000', 'bx-prime-line');
  series(ax, frBz, '#0000ff', 'bz-prime-line');
  finishTime(ax);
  ylab('B(nT)', 64, 1687, 15, 41, ax.g, 'y-axis-title', {'letter-spacing': '1.5'});
  legend(ax, 'legend', 1620, 1599, 76, 96, [["Bx'", '#f00'], ["By'", '#008000'], ["Bz'", '#00f'], ['|B|', '#000']], 1628, 1666, 1613, 22.3, 18);
})();
// PAD
(function () {
  const ax = timeAxes('pitch-angle-distribution-chart', 1872, 2063, 0, 180, [0, 60, 120, 180], ['0', '60', '120', '180'], 'Suprathermal Electrons Pitch Angle Distribution (96.71eV)', 674, 1862);
  const clamp = v => Math.max(0, Math.min(1, v));
  const jet = v => {
    const r = clamp(1.5 - Math.abs(4 * v - 3)), g = clamp(1.5 - Math.abs(4 * v - 2)), b = clamp(1.5 - Math.abs(4 * v - 1));
    return 'rgb(' + Math.round(r * 255) + ',' + Math.round(g * 255) + ',' + Math.round(b * 255) + ')';
  };
  const holes = new Set(padHoles.map(h => h[0] + '_' + h[1]));
  for (let c = 0; c < padLo.length; c++) {
    for (let r = padLo[c]; r <= padHi[c]; r++) {
      if (holes.has(c + '_' + r)) continue;
      const val = padProfA[r] * (1 - padMix[c]) + padProfB[r] * padMix[c] + padJitter[(c * 5 + r * 3) % padJitter.length];
      const x = ax.sx(c), y = ax.sy((r + 1) * 6);
      const cell = mk('rect', {x: x.toFixed(1), y: y.toFixed(1), width: (ax.sx(c + 1) - x + 0.6).toFixed(1), height: (ax.sy(r * 6) - y + 0.6).toFixed(1), fill: jet((val + 31) / 5)}, ax.plot);
      
      
    }
  }
  finishTime(ax);
  ylab('pitch angle (deg)', 56, 1968, 15, 141, ax.g, 'y-axis-title', {'letter-spacing': '1.5'});
  const cb = group('colorbar', ax.g);
  mk('rect', {x: 1711, y: 1872, width: 9, height: 191, fill: 'url(#jetgrad)', stroke: '#000', 'stroke-width': 1}, cb);
  [-26, -27, -28, -29, -30, -31].forEach((p, i) => {
    const y = 1872 + i * 38.2;
    const t = label('10', 1727, y + 8 - (i === 5 ? 4 : 0) + (i === 0 ? 4 : 0), 17, 'start', null, cb, 'colorbar-tick-label');
    const s = mk('tspan', {dy: -9, 'font-size': 11}, t); s.textContent = String(p);
  });
})();
// Solar wind
(function () {
  const yv = [-500, -400, -300, -200, -100, 0, 100];
  const ax = timeAxes('solar-wind-velocity-chart', 2159, 2351, -500, 100, yv, yv.map(String), 'Solar Wind Velocity (GSE Frame)', 376, 2148);
  series(ax, swVx, '#ff0000', 'vx-line');
  series(ax, swVy, '#008000', 'vy-line');
  series(ax, swVz, '#0000ff', 'vz-line');
  finishTime(ax);
  ylab('Vsw(km/s)', 44, 2254, 15, 85, ax.g, 'y-axis-title', {'letter-spacing': '1.5'});
  legend(ax, 'legend', 1624, 2166, 72, 73, [['Vx', '#f00'], ['Vy', '#008000'], ['Vz', '#00f']], 1634, 1668, 2180, 22, 17);
})();
// Beta
(function () {
  const yv = [0, 1, 2, 3, 4, 5];
  const ax = timeAxes('plasma-beta-chart', 2439, 2630, 0, 5, yv, yv.map(String), 'Plasma Beta', 143, 2429);
  series(ax, betaT, '#008000', 'beta-line');
  series(ax, betaP, '#0000ff', 'beta-p-line');
  finishTime(ax);
  ylab('βp and β', 72, 2536, 15, 69, ax.g, 'y-axis-title', {'letter-spacing': '1.5'});
  legend(ax, 'legend', 1626, 2446, 70, 58, [['βp', '#00f', 1], ['β', '#008000', 1]], 1635, 1670, 2461, 26, null);
})();
// Density
(function () {
  const yv = [0, 5, 10, 15, 20, 25, 30];
  const ax = timeAxes('proton-density-chart', 2727, 2917, 0, 30, yv, yv.map(String), 'Proton Number Density', 271, 2715);
  series(ax, densNp, '#0000ff', 'np-line');
  finishTime(ax);
  ylab('Np(#/cc)', 70, 2820, 15, 72, ax.g, 'y-axis-title', {'letter-spacing': '1.5'});
})();
// Temperature
(function () {
  const yv = [0, 0.1, 0.2, 0.3, 0.4, 0.5];
  const ax = timeAxes('proton-temperature-chart', 3006, 3195, 0, 0.5, yv, yv.map(v => v.toFixed(1)), 'Proton Temperature and ', null, 2993);
  ax.title.setAttribute('transform', 'translate(-30,0)');
  const ti = mk('tspan', {'font-family': 'Liberation Serif, serif', 'font-style': 'italic'}, ax.title); ti.textContent = 'T';
  const tis = mk('tspan', {'font-size': 15, dy: 5, 'font-family': 'Liberation Serif, serif', 'font-style': 'italic'}, ax.title); tis.textContent = 'e';
  const ti2 = mk('tspan', {dy: -5, 'font-family': 'Liberation Serif, serif', 'font-style': 'italic'}, ax.title); ti2.textContent = '/T';
  const ti3 = mk('tspan', {'font-size': 15, dy: 5, 'font-family': 'Liberation Serif, serif', 'font-style': 'italic'}, ax.title); ti3.textContent = 'p';
  ax.title.setAttribute('textLength', 330);
  ax.title.setAttribute('lengthAdjust', 'spacingAndGlyphs');
  series(ax, tempTp, '#0000ff', 'tp-line');
  const ax2 = {g: ax.g, plot: ax.plot, x0: ax.x0, x1: ax.x1, y0: ax.y0, y1: ax.y1, sx: ax.sx, sy: v => ax.y1 - v / 5 * (ax.y1 - ax.y0)};
  line(ax2, tempRatio.map((v, i) => i), tempRatio, '#ff0000', 2.2, 'te-tp-ratio-line');
  finishTime(ax, 'only-left');
  yTicks(ax2, [0, 1, 2, 3, 4, 5], ['0', '1', '2', '3', '4', '5'], 1709, 17, 'right-y-tick-label', '#ff0000', true);
  ylab('Tp(10⁶K)', 58, 3100, 15, 68, ax.g, 'y-axis-title', {'letter-spacing': '1.5'});
  ylab('Te/Tp', 1745, 3100, 16, 40, ax.g, 'right-axis-title', {fill: '#ff0000', 'font-style': 'italic', 'font-family': 'Liberation Serif, serif'});
  legend(ax, 'tp-legend', 124, 3013, 73, 27, [['Tp', '#00f']], 135, 170, 3026, 0, 18);
  legend(ax, 'ratio-legend', 1605, 3013, 91, 32, [['Te/Tp', '#f00', 1]], 1615, 1650, 3028, 0, 34);
})();
</script>
</body></html>
